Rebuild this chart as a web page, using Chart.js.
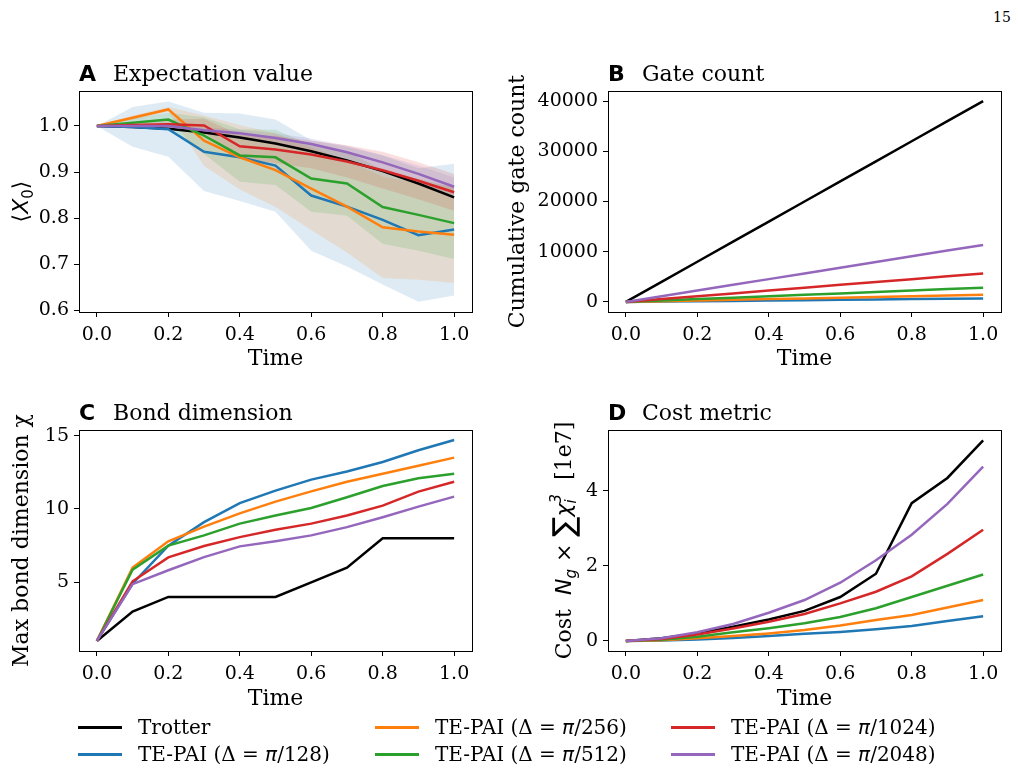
<!DOCTYPE html>
<html>
<head>
<meta charset="utf-8">
<script src="https://cdn.jsdelivr.net/npm/chart.js@4.4.1/dist/chart.umd.min.js"></script>
<style>
  body { margin: 0; background: #fff; width: 1018px; height: 772px; position: relative; overflow: hidden; font-family: "DejaVu Serif", serif; }
  canvas.panel { position: absolute; left: 0; top: 0; }
  #pageno { position: absolute; left: 993px; top: 9px; font-size: 14px; }
  .leg-item { position: absolute; height: 24px; line-height: 24px; font-size: 20px; white-space: nowrap; }
  .leg-line { position: absolute; left: 0; top: 11px; width: 44px; height: 3px; }
  .leg-text { position: absolute; left: 60px; top: 0; }
  .leg-text i { font-family: "DejaVu Sans"; }
</style>
</head>
<body>
<div id="pageno">15</div>
<canvas id="cA" class="panel" width="1018" height="772"></canvas>
<canvas id="cB" class="panel" width="1018" height="772"></canvas>
<canvas id="cC" class="panel" width="1018" height="772"></canvas>
<canvas id="cD" class="panel" width="1018" height="772"></canvas>
<div id="legend"></div>
<script>
// time steps shared by all panels
const times = [0.0, 0.1, 0.2, 0.3, 0.4, 0.5, 0.6, 0.7, 0.8, 0.9, 1.0];
const xTicks = [0.0, 0.2, 0.4, 0.6, 0.8, 1.0];

const seriesNames = ['Trotter', 'TE-PAI (Δ = π/128)', 'TE-PAI (Δ = π/256)', 'TE-PAI (Δ = π/512)', 'TE-PAI (Δ = π/1024)', 'TE-PAI (Δ = π/2048)'];
const seriesColors = ['#000000', '#1f77b4', '#ff7f0e', '#2ca02c', '#d62728', '#9467bd'];
const bandColors = ['', 'rgba(31,119,180,0.15)', 'rgba(255,127,14,0.15)', 'rgba(44,160,44,0.15)', 'rgba(214,39,40,0.15)', 'rgba(148,103,189,0.15)'];

// A: expectation value <X0>
const expTrotter = [1.0, 0.998, 0.994, 0.986, 0.975, 0.962, 0.945, 0.925, 0.902, 0.875, 0.845];
const exp128 = [1.0, 0.998, 0.993, 0.944, 0.932, 0.914, 0.849, 0.825, 0.796, 0.763, 0.775];
const exp256 = [1.0, 1.018, 1.036, 0.968, 0.932, 0.904, 0.864, 0.825, 0.780, 0.771, 0.764];
const exp512 = [1.0, 1.007, 1.014, 0.979, 0.936, 0.932, 0.886, 0.875, 0.824, 0.807, 0.789];
const exp1024 = [1.0, 1.002, 1.004, 1.001, 0.956, 0.949, 0.938, 0.923, 0.904, 0.881, 0.856];
const exp2048 = [1.0, 1.0, 1.0, 0.991, 0.984, 0.974, 0.961, 0.943, 0.921, 0.896, 0.868];
// shaded spread (upper / lower edge) for each TE-PAI run
const up128 = [1.0, 1.041, 1.053, 1.029, 1.027, 1.014, 0.969, 0.955, 0.936, 0.908, 0.918];
const lo128 = [1.0, 0.955, 0.933, 0.859, 0.837, 0.814, 0.729, 0.695, 0.656, 0.618, 0.632];
const up256 = [1.0, 1.023, 1.041, 1.023, 1.002, 0.984, 0.954, 0.925, 0.890, 0.876, 0.869];
const lo256 = [1.0, 1.013, 1.031, 0.913, 0.862, 0.824, 0.774, 0.725, 0.670, 0.666, 0.659];
const up512 = [1.0, 1.017, 1.029, 1.019, 0.993, 0.992, 0.958, 0.945, 0.904, 0.885, 0.867];
const lo512 = [1.0, 0.997, 0.999, 0.939, 0.879, 0.872, 0.814, 0.805, 0.744, 0.729, 0.711];
const up1024 = [1.0, 1.007, 1.014, 1.016, 0.981, 0.979, 0.968, 0.958, 0.944, 0.921, 0.896];
const lo1024 = [1.0, 0.997, 0.994, 0.986, 0.931, 0.919, 0.908, 0.888, 0.864, 0.841, 0.816];
const up2048 = [1.0, 1.002, 1.003, 0.997, 0.992, 0.984, 0.973, 0.957, 0.937, 0.914, 0.888];
const lo2048 = [1.0, 0.998, 0.997, 0.985, 0.976, 0.964, 0.949, 0.929, 0.905, 0.878, 0.848];

// B: cumulative gate count
const gateTrotter = [0, 4000, 8000, 12000, 16000, 20000, 24000, 28000, 32000, 36000, 40000];
const gate128 = [0, 71, 142, 213, 284, 355, 426, 497, 568, 639, 710];
const gate256 = [0, 142, 284, 426, 568, 710, 852, 994, 1136, 1278, 1420];
const gate512 = [0, 284, 568, 852, 1136, 1420, 1704, 1988, 2272, 2556, 2840];
const gate1024 = [0, 568, 1136, 1704, 2272, 2840, 3408, 3976, 4544, 5112, 5680];
const gate2048 = [0, 1136, 2272, 3408, 4544, 5680, 6816, 7952, 9088, 10224, 11360];

// C: max bond dimension
const bondTrotter = [1, 3, 4, 4, 4, 4, 5, 6, 8, 8, 8];
const bond128 = [1, 4.9, 7.5, 9.1, 10.4, 11.25, 12.0, 12.56, 13.2, 14.0, 14.7];
const bond256 = [1, 6.0, 7.8, 8.8, 9.7, 10.5, 11.2, 11.86, 12.4, 12.95, 13.5];
const bond512 = [1, 5.86, 7.5, 8.2, 9.0, 9.55, 10.07, 10.8, 11.57, 12.1, 12.4];
const bond1024 = [1, 5.07, 6.7, 7.47, 8.08, 8.58, 9.0, 9.55, 10.23, 11.18, 11.86];
const bond2048 = [1, 4.87, 5.82, 6.72, 7.45, 7.8, 8.2, 8.76, 9.44, 10.16, 10.84];

// D: cost metric (units of 1e7)
const costTrotter = [0, 0.07, 0.2, 0.38, 0.57, 0.8, 1.17, 1.79, 3.67, 4.34, 5.34];
const cost128 = [0, 0.01, 0.04, 0.08, 0.13, 0.19, 0.24, 0.31, 0.40, 0.53, 0.66];
const cost256 = [0, 0.02, 0.07, 0.13, 0.20, 0.29, 0.41, 0.56, 0.69, 0.89, 1.09];
const cost512 = [0, 0.03, 0.11, 0.23, 0.34, 0.47, 0.64, 0.87, 1.17, 1.47, 1.77];
const cost1024 = [0, 0.05, 0.17, 0.33, 0.51, 0.72, 1.0, 1.31, 1.72, 2.32, 2.96];
const cost2048 = [0, 0.07, 0.23, 0.45, 0.75, 1.09, 1.55, 2.15, 2.83, 3.65, 4.64];

const expTicks = [0.6, 0.7, 0.8, 0.9, 1.0];
const gateTicks = [0, 10000, 20000, 30000, 40000];
const bondTicks = [5, 10, 15];
const costTicks = [0, 2, 4];

const W = 1018, H = 772;
const tickFont = { family: 'DejaVu Serif', size: 19 };
const labelFont = { family: 'DejaVu Serif', size: 22 };

function points(ys) {
  return times.map((t, i) => ({ x: t, y: ys[i] }));
}

function lineSets(series) {
  return series.map((ys, i) => ({
    label: seriesNames[i],
    data: points(ys),
    borderColor: seriesColors[i],
    backgroundColor: seriesColors[i],
    borderWidth: 2.5,
    pointRadius: 0,
    tension: 0,
    fill: false,
    order: 10 - i
  }));
}

function bandSets(bands) {
  const out = [];
  bands.forEach((b, k) => {
    const i = k + 1;
    out.push({ data: points(b[0]), borderWidth: 0, borderColor: 'transparent', backgroundColor: bandColors[i], pointRadius: 0, fill: '+1', order: 30 - k });
    out.push({ data: points(b[1]), borderWidth: 0, borderColor: 'transparent', backgroundColor: bandColors[i], pointRadius: 0, fill: false, order: 30 - k });
  });
  return out;
}

// black frame round the plot area (matplotlib spines)
const framePlugin = {
  id: 'frame',
  afterDatasetsDraw(chart) {
    const a = chart.chartArea, ctx = chart.ctx;
    ctx.save();
    ctx.strokeStyle = '#000';
    ctx.lineWidth = 1;
    ctx.strokeRect(Math.round(a.left) + 0.5, Math.round(a.top) + 0.5, Math.round(a.right - a.left), Math.round(a.bottom - a.top));
    ctx.restore();
  }
};

// "A  Expectation value" style heading: bold sans letter + serif text
const panelTitle = {
  id: 'panelTitle',
  afterDraw(chart, args, o) {
    const a = chart.chartArea, ctx = chart.ctx;
    ctx.save();
    ctx.fillStyle = '#000';
    ctx.textBaseline = 'alphabetic';
    ctx.font = 'bold 22px "DejaVu Sans"';
    ctx.fillText(o.letter, a.left, a.top - 10);
    ctx.font = '22px "DejaVu Serif"';
    ctx.fillText(o.text, a.left + 34, a.top - 10);
    ctx.restore();
  }
};

// rotated y label made of mixed-font pieces (math parts)
const richYLabel = {
  id: 'richYLabel',
  afterDraw(chart, args, o) {
    if (!o.parts) return;
    const a = chart.chartArea, ctx = chart.ctx;
    ctx.save();
    ctx.fillStyle = '#000';
    ctx.textBaseline = 'alphabetic';
    ctx.translate(o.x, (a.top + a.bottom) / 2);
    ctx.rotate(-Math.PI / 2);
    const widthOf = p => {
      ctx.font = p.f;
      if (p.t !== undefined) return ctx.measureText(p.t).width;
      return Math.max(ctx.measureText(p.sub || '').width, ctx.measureText(p.sup || '').width);
    };
    const total = o.parts.reduce((s, p) => s + widthOf(p), 0);
    let x = -total / 2;
    const base = 8;
    o.parts.forEach(p => {
      const w = widthOf(p);
      ctx.font = p.f;
      if (p.t !== undefined) {
        ctx.fillText(p.t, x, base + (p.dy || 0));
      } else {
        if (p.sub) ctx.fillText(p.sub, x, base + 5);
        if (p.sup) ctx.fillText(p.sup, x, base - 10);
      }
      x += w;
    });
    ctx.restore();
  }
};

function makePanel(id, box, cfg) {
  new Chart(document.getElementById(id), {
    type: 'line',
    data: { datasets: lineSets(cfg.series).concat(cfg.bands ? bandSets(cfg.bands) : []) },
    plugins: [framePlugin, panelTitle, richYLabel],
    options: {
      responsive: false,
      animation: false,
      devicePixelRatio: 1,
      layout: { padding: { left: box.yLeft, top: box.top, right: W - box.right, bottom: H - box.xBottom } },
      plugins: {
        legend: { display: false },
        tooltip: { enabled: false },
        panelTitle: { letter: cfg.letter, text: cfg.title },
        richYLabel: { parts: cfg.yParts, x: cfg.yLabelX }
      },
      scales: {
        x: {
          type: 'linear',
          min: -0.05,
          max: 1.05,
          afterBuildTicks: s => { s.ticks = xTicks.map(v => ({ value: v })); },
          afterFit: s => { s.height = box.xBottom - box.bottom; },
          ticks: { font: tickFont, color: '#000', padding: 7, maxRotation: 0, autoSkip: false, callback: v => v.toFixed(1) },
          grid: { display: true, drawOnChartArea: false, drawTicks: true, tickLength: 5, color: '#000', tickWidth: 1 },
          border: { display: false },
          title: { display: true, text: 'Time', font: labelFont, color: '#000', padding: 0 }
        },
        y: {
          type: 'linear',
          min: cfg.yRange[0],
          max: cfg.yRange[1],
          afterBuildTicks: s => { s.ticks = cfg.yTicks.map(v => ({ value: v })); },
          afterFit: s => { s.width = box.left - box.yLeft; },
          ticks: { font: tickFont, color: '#000', padding: 5, autoSkip: false, callback: cfg.yFmt },
          grid: { display: true, drawOnChartArea: false, drawTicks: true, tickLength: 5, color: '#000', tickWidth: 1 },
          border: { display: false },
          title: { display: !!cfg.yTitle, text: cfg.yTitle || '', font: labelFont, color: '#000', padding: 0 }
        }
      }
    }
  });
}

const serif22 = '22px "DejaVu Serif"';
const sans22 = '22px "DejaVu Sans"';
const sansIt22 = 'italic 22px "DejaVu Sans"';
const sansIt15 = 'italic 15px "DejaVu Sans"';

makePanel('cA', { yLeft: 8, left: 79, top: 91, right: 472, bottom: 312, xBottom: 372 }, {
  letter: 'A', title: 'Expectation value',
  series: [expTrotter, exp128, exp256, exp512, exp1024, exp2048],
  bands: [[up128, lo128], [up256, lo256], [up512, lo512], [up1024, lo1024], [up2048, lo2048]],
  yRange: [0.596, 1.076], yTicks: expTicks, yFmt: v => v.toFixed(1),
  yLabelX: 20,
  yParts: [{ t: '⟨', f: sans22 }, { t: 'X', f: sansIt22 }, { sub: '0', f: '15px "DejaVu Sans"' }, { t: '⟩', f: sans22 }]
});

makePanel('cB', { yLeft: 505, left: 608, top: 91, right: 1001, bottom: 312, xBottom: 372 }, {
  letter: 'B', title: 'Gate count',
  series: [gateTrotter, gate128, gate256, gate512, gate1024, gate2048],
  yRange: [-2000, 42000], yTicks: gateTicks, yFmt: v => String(v),
  yTitle: 'Cumulative gate count'
});

makePanel('cC', { yLeft: 9, left: 79, top: 430, right: 472, bottom: 651, xBottom: 712 }, {
  letter: 'C', title: 'Bond dimension',
  series: [bondTrotter, bond128, bond256, bond512, bond1024, bond2048],
  yRange: [0.315, 15.385], yTicks: bondTicks, yFmt: v => String(v),
  yTitle: 'Max bond dimension χ'
});

makePanel('cD', { yLeft: 550, left: 608, top: 430, right: 1001, bottom: 651, xBottom: 712 }, {
  letter: 'D', title: 'Cost metric',
  series: [costTrotter, cost128, cost256, cost512, cost1024, cost2048],
  yRange: [-0.2675, 5.6175], yTicks: costTicks, yFmt: v => String(v),
  yLabelX: 563,
  yParts: [
    { t: 'Cost  ', f: serif22 }, { t: 'N', f: sansIt22 }, { sub: 'g', f: sansIt15 },
    { t: ' × ', f: sans22 }, { t: '∑', f: '30px "DejaVu Sans"', dy: 3 }, { t: 'χ', f: sansIt22 },
    { sub: 'i', sup: '3', f: sansIt15 }, { t: '  [1e7]', f: serif22 }
  ]
});

// shared legend, three columns, filled column by column
const legendCols = [78, 375, 671];
const legendRows = [715, 742];
const legend = document.getElementById('legend');
seriesNames.forEach((name, i) => {
  const item = document.createElement('div');
  item.className = 'leg-item';
  item.style.left = legendCols[Math.floor(i / 2)] + 'px';
  item.style.top = legendRows[i % 2] + 'px';
  const ln = document.createElement('span');
  ln.className = 'leg-line';
  ln.style.background = seriesColors[i];
  const tx = document.createElement('span');
  tx.className = 'leg-text';
  // pi set in italic like the math text of the original
  name.split('π').forEach((part, j) => {
    if (j > 0) {
      const pi = document.createElement('i');
      pi.textContent = 'π';
      tx.appendChild(pi);
    }
    tx.appendChild(document.createTextNode(part));
  });
  item.appendChild(ln);
  item.appendChild(tx);
  legend.appendChild(item);
});
</script>
</body>
</html>
